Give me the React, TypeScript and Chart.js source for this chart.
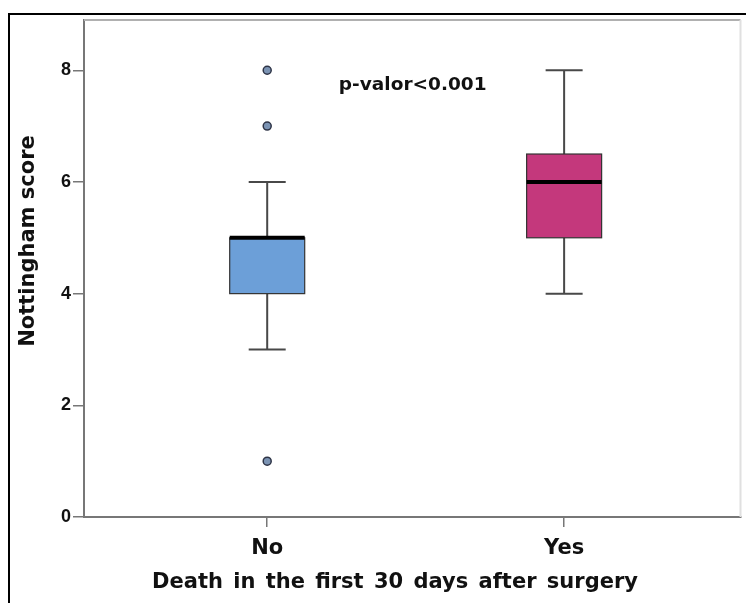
import React, { useEffect, useRef } from "react";
import { Chart, registerables } from "chart.js";

Chart.register(...registerables);

const categories = ["No", "Yes"];
const whiskerLow = [3, 4];
const q1 = [4, 5];
const median = [5, 6];
const q3 = [5, 6.5];
const whiskerHigh = [6, 8];
const outlierCategory = [0, 0, 0];
const outlierValues = [8, 7, 1];
const yTicks = [0, 2, 4, 6, 8];
const annotationText = "p-valor<0.001";
const annotationPos = { x: 1.49, y: 7.73 };
const xTitle = "Death in the first 30 days after surgery";
const yTitle = "Nottingham score";

const boxColors = ["#6c9fd8", "#c4387c"];
const FONT = "'Liberation Sans', Arial, sans-serif";
const WIDE = "'DejaVu Sans', Verdana, sans-serif";

const boxPlugin = {
  id: "boxes",
  beforeDatasetsDraw(chart: any) {
    const { ctx, scales, chartArea } = chart;
    const xs = scales.x;
    const ys = scales.y;
    ctx.save();
    ctx.strokeStyle = "#b0b0b0";
    ctx.lineWidth = 2;
    ctx.beginPath();
    ctx.moveTo(chartArea.left, chartArea.top);
    ctx.lineTo(chartArea.right, chartArea.top);
    ctx.stroke();
    ctx.strokeStyle = "#e0e0e0";
    ctx.beginPath();
    ctx.moveTo(chartArea.right, chartArea.top);
    ctx.lineTo(chartArea.right, chartArea.bottom);
    ctx.stroke();

    const boxW = 75;
    const capW = 37;
    categories.forEach((_, i) => {
      const cx = xs.getPixelForValue(i + 1);
      const yLo = ys.getPixelForValue(whiskerLow[i]);
      const yHi = ys.getPixelForValue(whiskerHigh[i]);
      const yQ1 = ys.getPixelForValue(q1[i]);
      const yQ3 = ys.getPixelForValue(q3[i]);
      const yMed = ys.getPixelForValue(median[i]);
      ctx.strokeStyle = "#484848";
      ctx.lineWidth = 2;
      ctx.beginPath();
      ctx.moveTo(cx, yLo);
      ctx.lineTo(cx, yQ1);
      ctx.moveTo(cx, yQ3);
      ctx.lineTo(cx, yHi);
      ctx.moveTo(cx - capW / 2, yLo);
      ctx.lineTo(cx + capW / 2, yLo);
      ctx.moveTo(cx - capW / 2, yHi);
      ctx.lineTo(cx + capW / 2, yHi);
      ctx.stroke();
      ctx.fillStyle = boxColors[i];
      ctx.fillRect(cx - boxW / 2, yQ3, boxW, yQ1 - yQ3);
      ctx.strokeStyle = "#333";
      ctx.lineWidth = 1.2;
      ctx.strokeRect(cx - boxW / 2, yQ3, boxW, yQ1 - yQ3);
      ctx.strokeStyle = "#000";
      ctx.lineWidth = 4;
      ctx.beginPath();
      ctx.moveTo(cx - boxW / 2, yMed);
      ctx.lineTo(cx + boxW / 2, yMed);
      ctx.stroke();
    });
    ctx.restore();
  },
  afterDraw(chart: any) {
    const { ctx, scales, chartArea } = chart;
    ctx.save();
    ctx.fillStyle = "#111";
    ctx.textAlign = "center";
    ctx.textBaseline = "middle";
    ctx.font = `bold 18.5px ${WIDE}`;
    ctx.fillText(
      annotationText,
      scales.x.getPixelForValue(annotationPos.x),
      scales.y.getPixelForValue(annotationPos.y)
    );
    ctx.font = `bold 21px ${WIDE}`;
    (ctx as any).wordSpacing = "3px";
    ctx.fillText(xTitle, chartArea.left + 311, chartArea.bottom + 66);
    (ctx as any).wordSpacing = "0px";
    ctx.translate(chartArea.left - 55, chartArea.top + 221);
    ctx.rotate(-Math.PI / 2);
    ctx.fillText(yTitle, 0, 0);
    ctx.restore();
  },
};

export default function App() {
  const ref = useRef<HTMLCanvasElement>(null);
  useEffect(() => {
    if (!ref.current) return;
    const chart = new Chart(ref.current, {
      type: "scatter",
      data: {
        datasets: [
          {
            data: outlierValues.map((v, i) => ({ x: outlierCategory[i] + 1, y: v })),
            pointRadius: 4,
            pointBackgroundColor: "#7b93b3",
            pointBorderColor: "#2e3446",
            pointBorderWidth: 1.5,
          },
        ],
      },
      options: {
        responsive: false,
        animation: false,
        layout: { padding: { top: 20, right: 3, left: 0, bottom: 0 } },
        plugins: { legend: { display: false }, tooltip: { enabled: false } },
        scales: {
          x: {
            type: "linear",
            min: 0.383,
            max: 2.594,
            afterBuildTicks: (s: any) => {
              s.ticks = categories.map((_, i) => ({ value: i + 1 }));
            },
            afterFit: (s: any) => {
              s.height = 86;
            },
            ticks: {
              callback: (v: any) => categories[Math.round(v) - 1] ?? "",
              font: { family: WIDE, size: 21, weight: "bold" },
              color: "#111",
              padding: 9,
              maxRotation: 0,
            },
            grid: { display: true, drawOnChartArea: false, drawTicks: true, tickLength: 10, color: "#777", lineWidth: 1.5 },
            border: { display: true, color: "#777", width: 2 },
          },
          y: {
            min: 0,
            max: 8.9,
            afterBuildTicks: (s: any) => {
              s.ticks = yTicks.map((v) => ({ value: v }));
            },
            afterFit: (s: any) => {
              s.width = 84;
            },
            ticks: {
              font: { family: FONT, size: 18, weight: "bold" },
              color: "#111",
              padding: 2,
            },
            grid: { display: true, drawOnChartArea: false, drawTicks: true, tickLength: 11, color: "#777", lineWidth: 1.5 },
            border: { display: true, color: "#777", width: 2 },
          },
        },
      },
      plugins: [boxPlugin],
    });
    return () => chart.destroy();
  }, []);
  return (
    <div style={{ position: "fixed", left: 0, top: 0, width: 746, height: 603, overflow: "hidden", background: "#fff" }}>
      <canvas ref={ref} width={746} height={603} style={{ position: "absolute", left: 0, top: 0 }} />
      <div
        style={{
          position: "absolute",
          left: 8,
          top: 13,
          width: 800,
          height: 700,
          borderLeft: "2px solid #000",
          borderTop: "2px solid #000",
          pointerEvents: "none",
        }}
      />
    </div>
  );
}
